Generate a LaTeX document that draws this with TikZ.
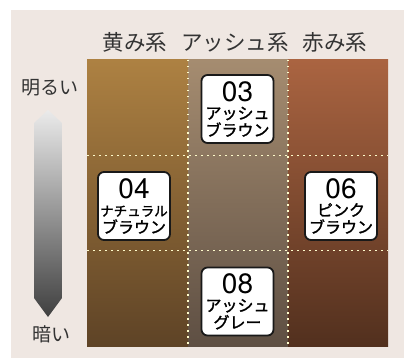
\documentclass[tikz,border=0pt]{standalone}
\usepackage{fontspec}
\newfontfamily\jpfont{Noto Sans CJK JP}
\newfontfamily\jpmed{Noto Sans CJK JP}[FakeBold=1.5]
\newfontfamily\numfont{TeX Gyre Heros}

\definecolor{panelbg}{HTML}{EFE7E2}
\definecolor{yellowtop}{HTML}{AD8142}
\definecolor{yellowmid}{HTML}{8E6431}
\definecolor{yellowbot}{HTML}{5E4326}
\definecolor{ashtop}{HTML}{A58C70}
\definecolor{ashmid}{HTML}{8B7662}
\definecolor{ashbot}{HTML}{5E4F43}
\definecolor{redtop}{HTML}{AA6441}
\definecolor{redmid}{HTML}{8C4C2F}
\definecolor{redbot}{HTML}{52301E}

\newcommand{\tagnum}[1]{{\numfont\fontsize{28}{19}\selectfont #1}\\[1pt]}

\begin{document}
\begin{tikzpicture}
  [x=1pt, y=-1pt,
   every node/.style={inner sep=0pt},
   head/.style={font=\jpfont\fontsize{21.5}{21}\selectfont, text=black!80},
   side/.style={font=\jpfont\fontsize{19}{19}\selectfont, text=black!80},
   colortag/.style={draw=black!90, line width=1.8pt, fill=white, rounded corners=6pt,
                    minimum width=72pt, minimum height=68pt, align=center,
                    font=\jpmed\fontsize{16}{17}\selectfont},
   gridline/.style={white!80!yellow, line width=1.5pt, dash pattern=on 1.5pt off 4.5pt}]
  \useasboundingbox (0,0) rectangle (411,358);
  \fill[panelbg] (11,10) rectangle (404,358);

  % colour columns
  \shade[top color=yellowtop, middle color=yellowmid, bottom color=yellowbot] (87,60) rectangle (188,346);
  \shade[top color=ashtop, middle color=ashmid, bottom color=ashbot] (188,60) rectangle (288,346);
  \shade[top color=redtop, middle color=redmid, bottom color=redbot] (288,60) rectangle (388,346);
  \foreach \x in {188,288}
    \draw[gridline] (\x,60) -- (\x,346);
  \foreach \y in {155.3,250.7}
    \draw[gridline] (87,\y) -- (388,\y);

  % headers
  \node[head] (yellow) at (135,42) {黄み系};
  \node[head] (ash) at (235,42) {アッシュ系};
  \node[head] (red) at (335,42) {赤み系};

  % brightness arrow
  \node[side] (bright) at (50,88) {明るい};
  \node[side] (dark) at (51,334) {暗い};
  \shade[top color=black!8, bottom color=black!75]
    (48,110) -- (62,123) -- (62,298) -- (48,317) -- (34,298) -- (34,123) -- cycle;

  % colour tags
  \node[colortag] (c03) at (237.5,109) {\tagnum{03}アッシュ\\ブラウン};
  \node[colortag] (c04) at (134,206) {\tagnum{04}{\fontsize{13.5}{17}\selectfont ナチュラル}\\ブラウン};
  \node[colortag] (c06) at (341,206) {\tagnum{06}ピンク\\ブラウン};
  \node[colortag] (c08) at (237.5,301.5) {\tagnum{08}アッシュ\\グレー};
\end{tikzpicture}
\end{document}
